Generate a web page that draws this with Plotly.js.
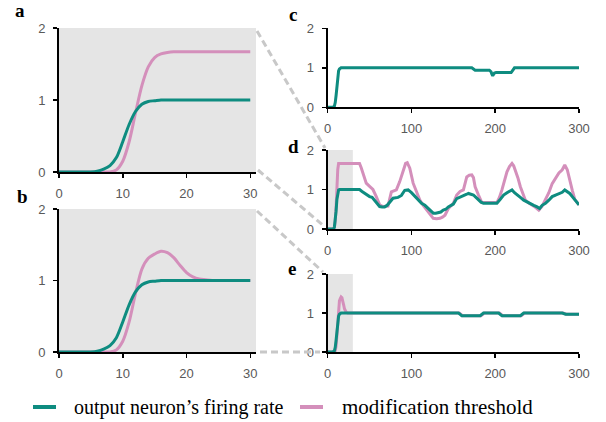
<!DOCTYPE html>
<html>
<head>
<meta charset="utf-8">
<script src="https://cdn.plot.ly/plotly-3.0.1.min.js"></script>
<style>html,body{margin:0;padding:0;background:#fff;}#chart{width:606px;height:422px;}</style>
</head>
<body>
<div id="chart"></div>
<script>
// ---- data ----
const abX = [0,1,2,3,4,5,6,7,8,9,10,11,12,13,14,15,16,17,18,19,20,21,22,23,24,25,26,27,28,29,30];
const tealA = [0,0,0,0,0,0,0.01,0.04,0.09,0.2,0.42,0.66,0.84,0.94,0.98,0.99,1,1,1,1,1,1,1,1,1,1,1,1,1,1,1];
const pinkA = [0,0,0,0,0,0,0,0,0,0.03,0.15,0.42,0.82,1.2,1.46,1.59,1.64,1.66,1.67,1.67,1.67,1.67,1.67,1.67,1.67,1.67,1.67,1.67,1.67,1.67,1.67];
const tealB = [0,0,0,0,0,0,0.01,0.04,0.09,0.2,0.42,0.66,0.84,0.94,0.98,0.99,1,1,1,1,1,1,1,1,1,1,1,1,1,1,1];
const pinkB = [0,0,0,0,0,0,0,0,0,0.03,0.15,0.42,0.82,1.16,1.31,1.37,1.41,1.39,1.32,1.21,1.11,1.05,1.02,1.01,1,1,1,1,1,1,1];

const cX    = [0,6,8,9,10,11,12,13,14,15,16,18,172,174,176,193,195,196,197,199,201,219,221,223,300];
const cTeal = [0,0,0.03,0.12,0.3,0.55,0.78,0.92,0.97,0.99,1,1,1,0.97,0.94,0.94,0.9,0.84,0.8,0.87,0.88,0.88,0.93,1,1];

const dPinkX = [0,7,8,9,10,11,12,13,38,40,43,46,50,54,58,62,66,72,76,82,86,90,93,95,98,102,106,110,114,118,122,126,130,134,137,140,144,150,154,158,162,166,169,172,174,176,180,184,202,205,208,211,214,217,220,222,224,227,230,233,236,240,244,248,252,256,260,264,268,272,276,280,283,286,289,292,295,298,300];
const dPink  = [0,0,0.05,0.2,0.55,1.1,1.5,1.66,1.66,1.55,1.35,1.16,1.08,1.0,0.82,0.61,0.57,0.58,0.94,0.99,1.2,1.45,1.66,1.68,1.54,1.16,0.92,0.73,0.6,0.48,0.37,0.27,0.26,0.27,0.3,0.35,0.52,0.65,0.86,0.95,0.99,1.32,1.36,1.37,1.3,1.07,0.86,0.67,0.67,0.8,0.99,1.2,1.45,1.58,1.66,1.6,1.49,1.3,1.07,0.9,0.73,0.66,0.61,0.55,0.48,0.58,0.75,0.92,1.15,1.3,1.42,1.5,1.62,1.5,1.22,0.98,0.75,0.66,0.61];
const dTealX = [0,7,8,9,10,11,12,13,14,38,41,44,47,50,53,56,59,62,65,68,71,74,78,84,88,92,96,100,104,108,112,116,120,124,126,129,132,135,138,141,144,147,150,154,158,162,166,168,171,174,177,180,183,186,202,206,210,214,218,220,223,226,230,234,238,242,246,250,253,256,260,264,268,272,276,280,283,286,289,292,295,298,300];
const dTeal  = [0,0,0.05,0.2,0.45,0.75,0.93,0.99,1.0,1.0,0.95,0.9,0.85,0.82,0.8,0.73,0.65,0.57,0.56,0.56,0.6,0.69,0.78,0.8,0.85,0.98,0.99,0.92,0.83,0.74,0.65,0.6,0.52,0.46,0.4,0.4,0.42,0.43,0.48,0.5,0.56,0.6,0.63,0.77,0.8,0.83,0.88,0.9,0.88,0.86,0.8,0.73,0.68,0.65,0.65,0.75,0.86,0.92,0.97,0.99,0.92,0.86,0.8,0.73,0.68,0.65,0.6,0.56,0.52,0.6,0.65,0.73,0.82,0.86,0.9,0.93,0.99,0.95,0.9,0.82,0.73,0.66,0.61];

const eX    = [0,6,8,9,10,11,12,13,14,15,16,18,156,158,160,182,184,186,204,206,208,230,232,234,280,282,284,300];
const eTeal = [0,0,0.03,0.12,0.3,0.55,0.78,0.92,0.97,0.99,1,1,1,0.97,0.93,0.93,0.97,1,1,0.97,0.93,0.93,0.97,1,1,0.98,0.97,0.97];
const ePinkX = [0,8,9,10,11,12,13,14,15,16,17,18,19,20,21,22,23,24,157,159,161,183,185,187,205,207,209,231,233,235,281,283,285,300];
const ePink  = [0,0,0.03,0.15,0.42,0.82,1.16,1.31,1.37,1.41,1.39,1.32,1.21,1.11,1.05,1.02,1.01,1.0,1.0,0.97,0.93,0.93,0.97,1.0,1.0,0.97,0.93,0.93,0.97,1.0,1.0,0.98,0.97,0.97];

const xTicksShort = [0,10,20,30];
const xTicksLong = [0,100,200,300];
const yTicks = [0,1,2];
const legendLabels = ["output neuron\u2019s firing rate", "modification threshold"];
const panelLetters = ["a","b","c","d","e"];

// ---- styling ----
const W = 606, H = 422;
const TEAL = '#0e8c80', PINK = '#d48fbb';
const SERIF = 'Liberation Serif';
const SANS = 'Liberation Sans';
const fx = p => p / W;
const fy = p => 1 - p / H;

const boxes = {
  a: {x:[59,256], y:[28,172]},
  b: {x:[59,256], y:[209,352]},
  c: {x:[327.7,579], y:[28.3,107.3]},
  d: {x:[327.7,579], y:[150,229]},
  e: {x:[327.7,579], y:[274,352]}
};

function line(x, y, color, xa, ya, shape) {
  return {x:x, y:y, type:'scatter', mode:'lines', xaxis:xa, yaxis:ya, showlegend:false, hoverinfo:'skip',
    line:{color:color, width:3, shape:shape || 'linear', smoothing:0.8}};
}

const data = [
  line(abX, pinkA, PINK, 'x', 'y', 'spline'),
  line(abX, tealA, TEAL, 'x', 'y', 'spline'),
  line(abX, pinkB, PINK, 'x2', 'y2', 'spline'),
  line(abX, tealB, TEAL, 'x2', 'y2', 'spline'),
  line(cX, cTeal, TEAL, 'x3', 'y3'),
  line(dPinkX, dPink, PINK, 'x4', 'y4'),
  line(dTealX, dTeal, TEAL, 'x4', 'y4'),
  line(ePinkX, ePink, PINK, 'x5', 'y5'),
  line(eX, eTeal, TEAL, 'x5', 'y5')
];

const tickfont = {family:SANS, size:13, color:'#595959'};
function xax(box, range, ticks, anchor) {
  return {domain:[fx(box.x[0]), fx(box.x[1])], range:range, anchor:anchor, tickvals:ticks,
    showline:true, linecolor:'#000', linewidth:2, ticks:'outside', ticklen:4, tickwidth:1.5, tickcolor:'#000',
    showgrid:false, zeroline:false, tickfont:tickfont, fixedrange:true, automargin:false, ticklabelstandoff:4};
}
function yax(box, anchor) {
  return {domain:[fy(box.y[1]), fy(box.y[0])], range:[0,2], anchor:anchor, tickvals:yTicks,
    showline:true, linecolor:'#000', linewidth:2, ticks:'outside', ticklen:4, tickwidth:1.5, tickcolor:'#000',
    showgrid:false, zeroline:false, tickfont:tickfont, fixedrange:true, automargin:false, ticklabelstandoff:5};
}

const dashStyle = {color:'#c8c8c8', width:3, dash:'7px,4px'};
function conn(x0,y0,x1,y1){
  return {type:'line', xref:'paper', yref:'paper', x0:fx(x0), y0:fy(y0), x1:fx(x1), y1:fy(y1), line:dashStyle, layer:'above'};
}

const shapes = [
  {type:'rect', xref:'x domain', yref:'y domain', x0:0, x1:1, y0:0, y1:1, fillcolor:'#e5e5e5', line:{width:0}, layer:'below'},
  {type:'rect', xref:'x2 domain', yref:'y2 domain', x0:0, x1:1, y0:0, y1:1, fillcolor:'#e5e5e5', line:{width:0}, layer:'below'},
  {type:'rect', xref:'x4', yref:'y4 domain', x0:0, x1:30, y0:0, y1:1, fillcolor:'#e5e5e5', line:{width:0}, layer:'below'},
  {type:'rect', xref:'x5', yref:'y5 domain', x0:0, x1:30, y0:0, y1:1, fillcolor:'#e5e5e5', line:{width:0}, layer:'below'},
  conn(257, 31, 325, 148),
  conn(258, 170, 325, 227),
  conn(257, 211, 323, 272),
  conn(260, 352, 320, 352),
  // legend swatches
  {type:'line', xref:'paper', yref:'paper', x0:fx(33), x1:fx(56), y0:fy(407), y1:fy(407), line:{color:TEAL, width:4}},
  {type:'line', xref:'paper', yref:'paper', x0:fx(300), x1:fx(323), y0:fy(407), y1:fy(407), line:{color:PINK, width:4}}
];

const letterPos = [[20,11],[22,196],[293,15],[293,146],[292,268]];
const annotations = panelLetters.map((t,i) => ({
  text:'<b>'+t+'</b>', xref:'paper', yref:'paper', x:fx(letterPos[i][0]), y:fy(letterPos[i][1]),
  xanchor:'center', yanchor:'middle', showarrow:false,
  font:{family:SERIF, size:19, color:'#000'}
}));
annotations.push(
  {text:legendLabels[0], xref:'paper', yref:'paper', x:fx(72), y:fy(407), xanchor:'left', yanchor:'middle', showarrow:false,
   font:{family:SERIF, size:20, color:'#000'}},
  {text:legendLabels[1], xref:'paper', yref:'paper', x:fx(340), y:fy(407), xanchor:'left', yanchor:'middle', showarrow:false,
   font:{family:SERIF, size:21, color:'#000'}}
);

const layout = {
  width:W, height:H, margin:{l:0,r:0,t:0,b:0}, paper_bgcolor:'#fff', plot_bgcolor:'rgba(0,0,0,0)',
  showlegend:false,
  xaxis: xax(boxes.a, [0,30.9], xTicksShort, 'y'),
  yaxis: yax(boxes.a, 'x'),
  xaxis2: xax(boxes.b, [0,30.9], xTicksShort, 'y2'),
  yaxis2: yax(boxes.b, 'x2'),
  xaxis3: xax(boxes.c, [0,300], xTicksLong, 'y3'),
  yaxis3: yax(boxes.c, 'x3'),
  xaxis4: xax(boxes.d, [0,300], xTicksLong, 'y4'),
  yaxis4: yax(boxes.d, 'x4'),
  xaxis5: xax(boxes.e, [0,300], xTicksLong, 'y5'),
  yaxis5: yax(boxes.e, 'x5'),
  shapes: shapes,
  annotations: annotations
};

Plotly.newPlot('chart', data, layout, {displayModeBar:false, staticPlot:true});
</script>
</body>
</html>
